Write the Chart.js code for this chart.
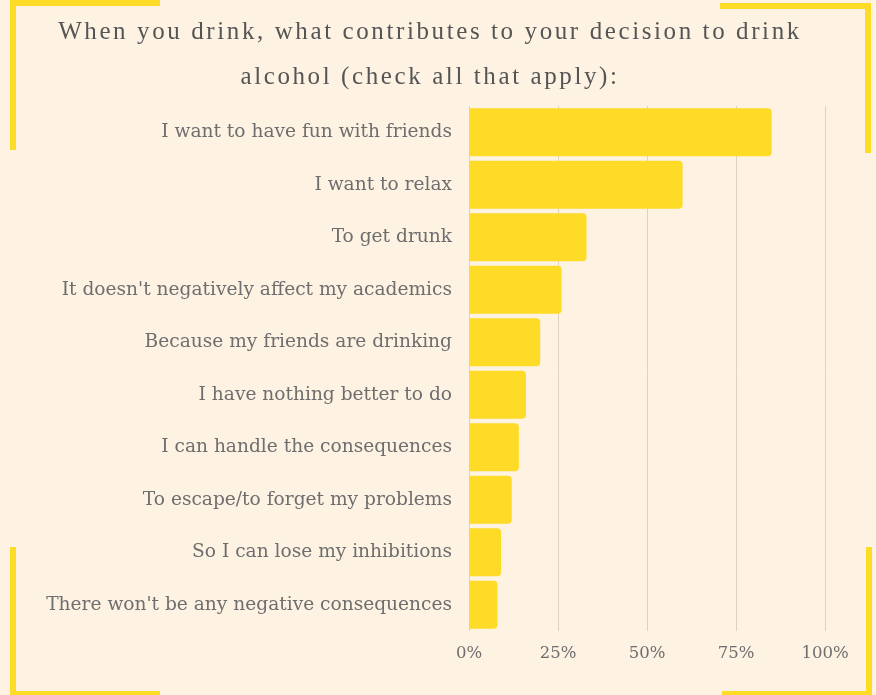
<!DOCTYPE html>
<html>
<head>
<meta charset="utf-8">
<script src="https://cdn.jsdelivr.net/npm/chart.js@4"></script>
<style>
  html, body { margin: 0; padding: 0; background: #fef2e3; }
  #wrap { position: relative; width: 876px; height: 695px; overflow: hidden; background: #fef2e3; }
  #chart { position: absolute; left: 0; top: 0; }
  .bar { position: absolute; background: #fddb27; }
  #title {
    position: absolute; left: 0; top: 8px; width: 860px; text-align: center;
    font-family: "Liberation Serif", serif; font-size: 25px; line-height: 45px;
    letter-spacing: 2.6px; color: #555;
  }
</style>
</head>
<body>
<div id="wrap">
  <canvas id="chart" width="876" height="695"></canvas>
  <div class="bar" style="left:10px;top:0;width:150px;height:6px"></div>
  <div class="bar" style="left:10px;top:0;width:6px;height:150px"></div>
  <div class="bar" style="left:720px;top:3px;width:151px;height:6px"></div>
  <div class="bar" style="left:865px;top:3px;width:6px;height:150px"></div>
  <div class="bar" style="left:10px;top:547px;width:6px;height:148px"></div>
  <div class="bar" style="left:10px;top:691px;width:150px;height:4px"></div>
  <div class="bar" style="left:866px;top:547px;width:6px;height:148px"></div>
  <div class="bar" style="left:722px;top:691px;width:150px;height:4px"></div>
  <div id="title">When you drink, what contributes to your decision to drink<br>alcohol (check all that apply):</div>
</div>
<script>
const reasons = [
  'I want to have fun with friends',
  'I want to relax',
  'To get drunk',
  "It doesn't negatively affect my academics",
  'Because my friends are drinking',
  'I have nothing better to do',
  'I can handle the consequences',
  'To escape/to forget my problems',
  'So I can lose my inhibitions',
  "There won't be any negative consequences"
];
const percents = [85, 60, 33, 26, 20, 16, 14, 12, 9, 8];
const xTicks = [0, 25, 50, 75, 100];

const ctx = document.getElementById('chart');

new Chart(ctx, {
  type: 'bar',
  data: {
    labels: reasons,
    datasets: [{
      data: percents,
      backgroundColor: '#fddb27',
      borderWidth: 0,
      borderRadius: 4,
      borderSkipped: 'start',
      barPercentage: 0.91,
      categoryPercentage: 1
    }]
  },
  options: {
    indexAxis: 'y',
    responsive: false,
    animation: false,
    layout: { padding: { top: 106, right: 51, left: 0, bottom: 0 } },
    plugins: {
      legend: { display: false },
      tooltip: { enabled: false }
    },
    scales: {
      x: {
        min: 0,
        max: 100,
        afterBuildTicks: (scale) => { scale.ticks = xTicks.map(v => ({ value: v })); },
        afterFit: (scale) => { scale.height = 64; },
        grid: { color: '#dcd2c4', drawTicks: false },
        border: { display: false },
        ticks: {
          padding: 13,
          color: '#6e6e6e',
          font: { family: 'DejaVu Serif', size: 16.5 },
          callback: (v) => v + '%'
        }
      },
      y: {
        afterFit: (scale) => { scale.width = 469; },
        grid: { display: false, drawTicks: false },
        border: { display: false },
        ticks: {
          padding: 17,
          color: '#6e6e6e',
          font: { family: 'DejaVu Serif', size: 18.6 }
        }
      }
    }
  }
});
</script>
</body>
</html>
